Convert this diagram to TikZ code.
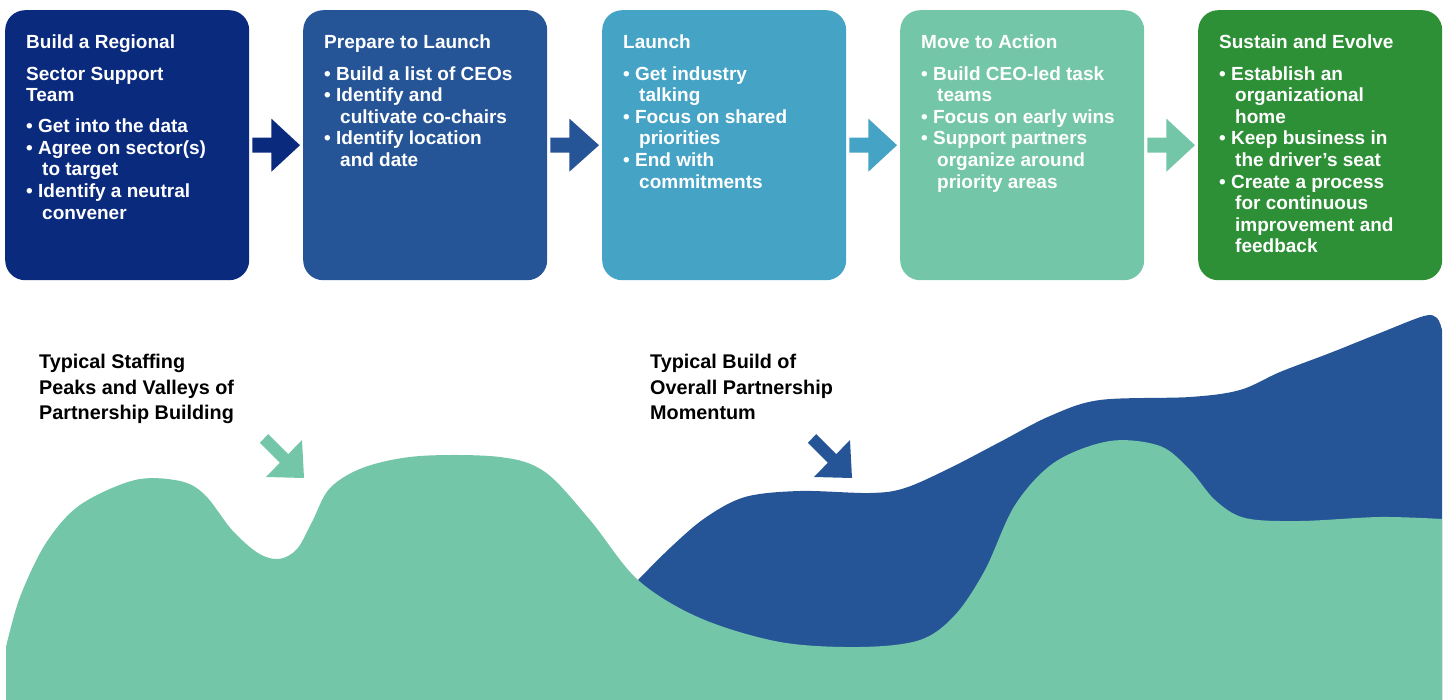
\documentclass[tikz,border=0pt]{standalone}
\usepackage{fontspec}
\setmainfont{Liberation Sans}
\definecolor{EtapeMarine}{HTML}{0A2A7E}
\definecolor{EtapeBleu}{HTML}{265597}
\definecolor{EtapeCiel}{HTML}{45A3C6}
\definecolor{EtapeMenthe}{HTML}{74C6A8}
\definecolor{EtapeVert}{HTML}{2D8F36}
\usetikzlibrary{calc}
\usetikzlibrary{positioning}
\newcommand{\Suite}{\hspace*{16pt}}
\newcommand{\Fleche}{(0,0) -- +(-38,-1) -- +(-24.2,-15.2) -- +(-44.2,-35.2) -- +(-35.8,-43.8) -- +(-15.8,-23.8) -- +(-2,-38) -- cycle}
\tikzset{
	stagebox/.style={anchor=north west, rounded corners=20pt, minimum width=244pt, minimum height=270pt, inner sep=0pt},
	stagetext/.style={anchor=north west, inner sep=0pt, align=left, text=white,
		font=\fontsize{19}{21.6}\selectfont\bfseries},
	legendtext/.style={anchor=north west, inner sep=0pt, align=left, text=black,
		font=\fontsize{19.8}{25.5}\selectfont\bfseries}
}
\begin{document}
\begin{tikzpicture}[x=1pt,y=-1pt]
    \useasboundingbox (0,0) rectangle (1445,700);
    % the five stages
    \node[stagebox, fill=EtapeMarine] (b1) at (5,10) {};
    \node[stagebox, fill=EtapeBleu] (b2) at (303,10) {};
    \node[stagebox, fill=EtapeCiel] (b3) at (602,10) {};
    \node[stagebox, fill=EtapeMenthe] (b4) at (900,10) {};
    \node[stagebox, fill=EtapeVert] (b5) at (1198,10) {};
    \node[stagetext] (t1) at ([shift={(21,25)}]b1.north west) {Build a Regional\\[9.5pt]
        Sector Support\\ Team\\[9.5pt]
        \textbullet\ Get into the data\\
        \textbullet\ Agree on sector(s)\\ \Suite to target\\
        \textbullet\ Identify a neutral\\ \Suite convener};
    \node[stagetext] (t2) at ([shift={(21,25)}]b2.north west) {Prepare to Launch\\[9.5pt]
        \textbullet\ Build a list of CEOs\\
        \textbullet\ Identify and\\ \Suite cultivate co-chairs\\
        \textbullet\ Identify location\\ \Suite and date};
    \node[stagetext] (t3) at ([shift={(21,25)}]b3.north west) {Launch\\[9.5pt]
        \textbullet\ Get industry\\ \Suite talking\\
        \textbullet\ Focus on shared\\ \Suite priorities\\
        \textbullet\ End with\\ \Suite commitments};
    \node[stagetext] (t4) at ([shift={(21,25)}]b4.north west) {Move to Action\\[9.5pt]
        \textbullet\ Build CEO-led task\\ \Suite teams\\
        \textbullet\ Focus on early wins\\
        \textbullet\ Support partners\\ \Suite organize around\\ \Suite priority areas};
    \node[stagetext] (t5) at ([shift={(21,25)}]b5.north west) {Sustain and Evolve\\[9.5pt]
        \textbullet\ Establish an\\ \Suite organizational\\ \Suite home\\
        \textbullet\ Keep business in\\ \Suite the driver’s seat\\
        \textbullet\ Create a process\\ \Suite for continuous\\ \Suite improvement and\\ \Suite feedback};
    % block arrows between stages
    \foreach \i/\j/\c in {1/2/EtapeMarine, 2/3/EtapeBleu, 3/4/EtapeCiel, 4/5/EtapeMenthe} {
        \fill[\c] ($(b\i.east)+(3,-7.5)$) -- ($(b\i.east)+(22,-7.5)$) -- ($(b\i.east)+(22,-26.5)$)
            -- ($(b\j.west)+(-3,0)$) -- ($(b\i.east)+(22,26.5)$) -- ($(b\i.east)+(22,7.5)$)
            -- ($(b\i.east)+(3,7.5)$) -- cycle;
    }
    % momentum (behind)
    \fill[EtapeBleu] (700,700) -- plot[smooth, tension=0.55] coordinates {(638,580) (670,548) (705,518) (745,497) (800,491) (870,493) (905,488) (950,468) (1000,442) (1050,416) (1100,400) (1190,397) (1240,390) (1280,372) (1330,353) (1380,333) (1424,316) (1437,318) (1442,330)} -- (1442,700) -- cycle;
    % staffing peaks and valleys
    \fill[EtapeMenthe] (6,700) -- plot[smooth, tension=0.55] coordinates {(6,647) (20,597) (46,543) (80,505) (135,480) (180,481) (205,495) (232,530) (258,553) (279,559) (297,549) (312,522) (330,488) (365,467) (420,456) (500,457) (545,472) (590,520) (638,580) (700,618) (780,642) (860,647) (920,640) (955,615) (985,570) (1015,505) (1055,462) (1110,441) (1160,446) (1190,470) (1215,500) (1245,518) (1300,521) (1380,517) (1442,519)} -- (1442,700) -- cycle;
    % legends
    \node[legendtext] (staffing) at (39,354) {Typical Staffing\\ Peaks and Valleys of\\ Partnership Building};
    \node[legendtext] (momentum) at (650,354) {Typical Build of\\ Overall Partnership\\ Momentum};
    \begin{scope}[shift={(304,478)}]
        \fill[EtapeMenthe] \Fleche;
    \end{scope}
    \begin{scope}[shift={(852,478)}]
        \fill[EtapeBleu] \Fleche;
    \end{scope}
\end{tikzpicture}
\end{document}
